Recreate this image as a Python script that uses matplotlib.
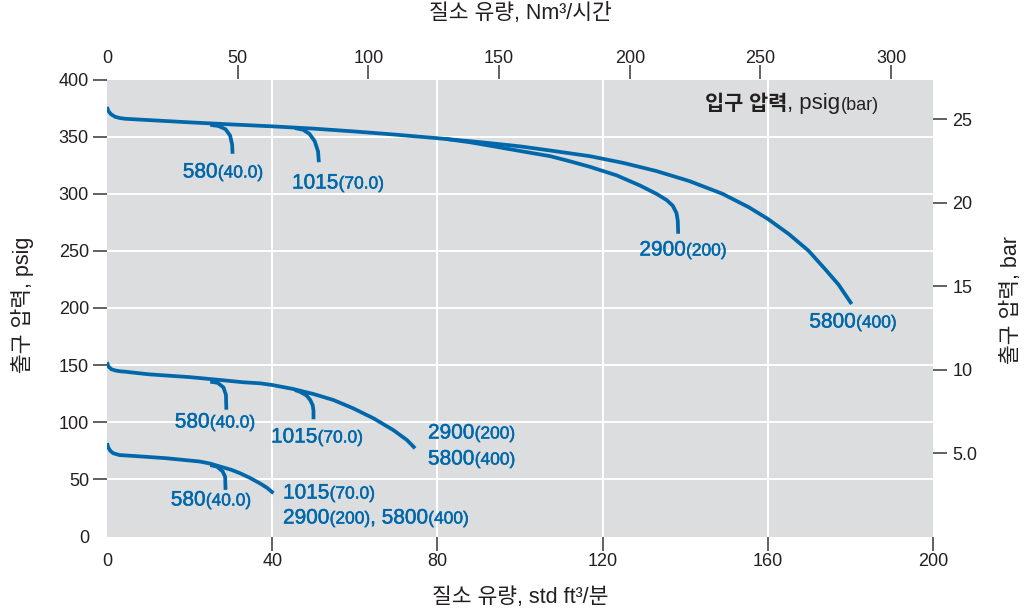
import matplotlib
matplotlib.use("Agg")
import matplotlib.pyplot as plt
import matplotlib.patheffects as pe
from matplotlib.offsetbox import TextArea, HPacker, AnnotationBbox
from matplotlib.ticker import FixedLocator, FixedFormatter

# ---------------- data ----------------
# flow in std ft3/min (scfm), outlet pressure in psig
hi_main_x = [0, 0.3, 1.0, 2.0, 3.2, 4.5, 10, 20, 30, 40, 50, 60, 70, 80, 90, 100, 108, 116.9,
             125, 133, 141, 149, 155.4, 160, 165.1, 169.9, 173.9, 177.1, 180.3]
hi_main_y = [376, 372.5, 369.5, 367.3, 366.2, 365.6, 364.5, 362.5, 360.7, 359, 357, 354.5, 351.7,
             348.6, 345.3, 341.5, 337.5, 332.9, 327, 319.9, 311.1, 300, 288.2, 278, 264.7, 250,
             233.9, 220.6, 203.5]
hi_2900_x = [82, 88, 95.2, 101, 107.3, 112, 117, 123.4, 129, 133, 135.5, 137, 137.9, 138.2, 138.3]
hi_2900_y = [348, 345, 340.5, 336.8, 332.9, 328.5, 323.5, 316.1, 307.3, 300, 294.5, 289.5, 283,
             276.5, 265]
hi_580_x = [25, 27, 28.7, 29.8, 30.3, 30.4]
hi_580_y = [360.3, 359.3, 356.5, 351, 343, 335]
hi_1015_x = [45.5, 47.5, 49, 50.3, 51.1, 51.3]
hi_1015_y = [357.5, 356, 352.5, 346, 337, 327.6]

mid_main_x = [0, 0.3, 1.0, 2.0, 3.2, 4.5, 10, 20, 27.4, 33, 37, 40, 45.1, 50, 54.8, 59.6, 64.5,
              69.3, 72.6, 74.6]
mid_main_y = [152.6, 149, 146.5, 145.3, 144.6, 144.2, 142, 139.5, 137, 135, 134.1, 132.6, 129.1,
              124.7, 119.5, 112.2, 103.5, 93.2, 84.5, 77.2]
mid_580_x = [25, 26.8, 28.2, 28.8, 28.9]
mid_580_y = [135.5, 134.5, 130.5, 124, 111]
mid_1015_x = [45.5, 46.7, 48.3, 49.2, 49.8, 50, 50]
mid_1015_y = [128.2, 126.7, 123.5, 119.5, 115, 110, 102.6]

lo_main_x = [0, 0.3, 0.8, 1.5, 3.0, 6.4, 14.4, 22.5, 25, 27.4, 30, 32.2, 34.5, 37, 38.8, 40.3]
lo_main_y = [81.7, 78, 75, 72.9, 71.3, 70.5, 68.5, 65.6, 63.8, 61.2, 58.5, 55.4, 51.5, 46.6,
             42.5, 37.9]
lo_580_x = [25, 26.6, 28.0, 28.6, 28.7]
lo_580_y = [62.5, 61.2, 57, 52.4, 40.8]

x_ticks = [0, 40, 80, 120, 160, 200]
y_ticks = [0, 50, 100, 150, 200, 250, 300, 350, 400]
top_ticks = [0, 50, 100, 150, 200, 250, 300]
bar_ticks = [5, 10, 15, 20, 25]
bar_labels = ["5.0", "10", "15", "20", "25"]

SCFM_TO_NM3H = 1.58
PSI_PER_BAR = 14.6

BLUE = "#0068AA"
GRAY_BG = "#DCDDDF"
TXT = "#231F20"
TICK = "#555555"
LAT = ["Liberation Sans", "Noto Sans CJK KR"]

plt.rcParams["font.family"] = LAT

fig = plt.figure(figsize=(10.31, 6.11), dpi=100)
ax = fig.add_axes([107 / 1031, 1 - 536.5 / 611, (933 - 107) / 1031, (536.5 - 79.5) / 611])
ax.set_facecolor(GRAY_BG)
ax.set_xlim(0, 200)
ax.set_ylim(0, 400)
for s in ax.spines.values():
    s.set_visible(False)

ax.set_xticks(x_ticks)
ax.set_yticks(y_ticks)
ax.tick_params(axis="both", direction="out", length=10, width=1.3, color=TICK,
               labelsize=13, labelcolor=TXT)
ax.tick_params(axis="x", pad=2)
ax.tick_params(axis="y", pad=3)
ax.xaxis.get_major_ticks()[0].tick1line.set_visible(False)
ax.yaxis.get_major_ticks()[0].tick1line.set_visible(False)

for gx in [40, 80, 120, 160]:
    ax.axvline(gx, color="white", lw=1.4, zorder=1)
for gy in [50, 100, 150, 200, 250, 300, 350]:
    ax.axhline(gy, color="white", lw=1.4, zorder=1)

lw = 2.7
for xs, ys in [(hi_main_x, hi_main_y), (hi_2900_x, hi_2900_y), (hi_580_x, hi_580_y),
               (hi_1015_x, hi_1015_y), (mid_main_x, mid_main_y), (mid_580_x, mid_580_y),
               (mid_1015_x, mid_1015_y), (lo_main_x, lo_main_y), (lo_580_x, lo_580_y)]:
    ax.plot(xs, ys, color=BLUE, lw=lw, solid_capstyle="butt", solid_joinstyle="round", zorder=3)

# secondary axes
top = ax.secondary_xaxis("top", functions=(lambda x: x * SCFM_TO_NM3H, lambda x: x / SCFM_TO_NM3H))
top.set_xticks(top_ticks)
top.tick_params(direction="out", length=10, width=1.3, color=TICK, labelsize=13,
                labelcolor=TXT, pad=-1)
for s in top.spines.values():
    s.set_visible(False)
top.xaxis.get_major_ticks()[0].tick2line.set_visible(False)
top.xaxis.get_major_ticks()[0].tick1line.set_visible(False)

right = ax.secondary_yaxis("right", functions=(lambda y: y / PSI_PER_BAR, lambda y: y * PSI_PER_BAR))
right.yaxis.set_major_locator(FixedLocator(bar_ticks))
right.yaxis.set_major_formatter(FixedFormatter(bar_labels))
right.tick_params(direction="out", length=10, width=1.3, color=TICK, labelsize=13,
                  labelcolor=TXT, pad=4)
for s in right.spines.values():
    s.set_visible(False)

# axis titles
fig.text(520 / 1031, 1 - 597 / 611, "질소 유량, std ft³/분", ha="center", va="center",
         fontsize=15.5, color=TXT)
fig.text(520 / 1031, 1 - 14 / 611, "질소 유량, Nm³/시간", ha="center", va="center",
         fontsize=15.5, color=TXT)
fig.text(23 / 1031, 1 - 305 / 611, "출구 압력, psig", ha="center", va="center",
         rotation=90, fontsize=15.5, color=TXT)
fig.text(1012 / 1031, 1 - 300 / 611, "출구 압력, bar", ha="center", va="center",
         rotation=90, fontsize=15.5, color=TXT)

THICK = [pe.withStroke(linewidth=0.35, foreground=BLUE)]


def label(parts, xy_px, align=(0.5, 0.5), color=BLUE, effects=None):
    kids = []
    for txt, size, weight in parts:
        props = dict(color=color, fontsize=size, fontweight=weight, family=LAT)
        if effects is not None:
            props["path_effects"] = effects
        kids.append(TextArea(txt, textprops=props))
    box = HPacker(children=kids, align="baseline", pad=0, sep=0)
    ab = AnnotationBbox(box, (xy_px[0] / 1031, 1 - xy_px[1] / 611), xycoords="figure fraction",
                        frameon=False, box_alignment=align, pad=0, zorder=5)
    fig.add_artist(ab)


def flow_label(num, paren, xy_px, align=(0.5, 0.5)):
    label([(num, 15, "normal"), (paren, 12.5, "normal")], xy_px, align, effects=THICK)


flow_label("580", "(40.0)", (223, 172))
flow_label("1015", "(70.0)", (338, 183))
flow_label("2900", "(200)", (683, 250))
flow_label("5800", "(400)", (853, 322))

flow_label("580", "(40.0)", (215, 422))
flow_label("1015", "(70.0)", (317, 437))
flow_label("2900", "(200)", (428, 433), align=(0, 0.5))
flow_label("5800", "(400)", (428, 459), align=(0, 0.5))

flow_label("580", "(40.0)", (211, 500))
flow_label("1015", "(70.0)", (283, 493), align=(0, 0.5))
label([("2900", 15, "normal"), ("(200)", 12.5, "normal"), (", 5800", 15, "normal"),
       ("(400)", 12.5, "normal")], (283, 518), align=(0, 0.5), effects=THICK)

label([("입구 압력", 15, "bold"), (", psig", 16, "normal"), ("(bar)", 13, "normal")],
      (705, 104), align=(0, 0.5), color=TXT)

fig.savefig("out.png", dpi=100)
